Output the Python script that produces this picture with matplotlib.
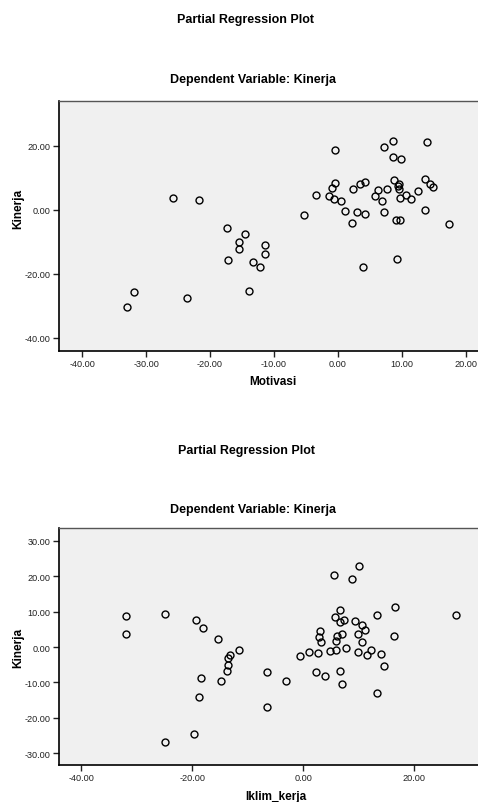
import matplotlib
matplotlib.use("Agg")
import matplotlib.pyplot as plt

plt.rcParams['font.family'] = ['Liberation Sans', 'DejaVu Sans']

#----------------------------data----------------------------------------------------#
motivasi_x = [-0.42, 7.24, 8.65, 13.96, 8.65, 9.90, -25.73, -21.67, -3.44, -1.46,
              -0.99, -0.42, -0.68, 0.42, 1.04, -5.26, 2.40, 3.49, 4.22, 2.92,
              4.27, 2.24, 5.73, 6.30, 6.88, 7.60, 7.19, 8.75, 9.48, 9.32,
              9.58, 9.64, 10.63, 11.41, 12.50, 9.01, 9.74, 13.65, 14.38, 14.79,
              13.59, 17.29, 3.96, 9.27, -17.34, -14.53, -15.47, -15.42, -11.41, -11.35,
              -17.19, -13.28, -12.19, -13.85, -31.82, -23.54, -32.97]
motivasi_y = [18.75, 19.69, 21.56, 21.15, 16.56, 15.83, 3.85, 3.13, 4.69, 4.38,
              6.67, 8.33, 3.33, 2.81, -0.21, -1.56, 6.56, 8.13, 8.54, -0.83,
              -1.25, -4.17, 4.17, 6.04, 2.71, 6.35, -0.83, 9.27, 8.13, 7.40,
              6.35, 3.65, 4.48, 3.23, 5.83, -3.23, -3.13, 9.48, 8.13, 7.19,
              0.10, -4.38, -17.71, -15.42, -5.52, -7.60, -10.10, -12.08, -11.04, -13.75,
              -15.73, -16.35, -17.71, -25.31, -25.52, -27.40, -30.31]

iklim_x = [-31.95, -31.95, -24.92, -24.98, -19.70, -19.34, -18.08, -18.38, -18.74, -15.38,
           -14.77, -13.27, -13.51, -13.51, -13.75, -11.59, -6.61, -6.61, -3.06, -0.66,
           1.08, 2.34, 2.64, 2.94, 2.82, 3.12, 3.90, 4.86, 5.53, 5.71,
           5.89, 5.89, 6.07, 6.55, 6.61, 6.67, 6.97, 7.27, 6.97, 7.75,
           8.77, 9.31, 9.79, 9.91, 10.09, 10.51, 10.63, 11.11, 11.47, 12.25,
           13.21, 13.33, 14.05, 14.53, 16.40, 16.58, 27.45]
iklim_y = [8.72, 3.75, 9.37, -26.90, -24.55, 7.69, 5.44, -8.72, -13.96, 2.25,
           -9.65, -2.16, -3.00, -4.97, -6.65, -0.75, -6.94, -16.78, -9.65, -2.62,
           -1.31, -7.03, -1.59, 4.40, 2.72, 1.41, -8.25, -1.22, 20.34, 8.34,
           -0.94, 1.69, 3.19, 10.31, 6.94, -6.84, 3.75, 7.69, -10.31, -0.28,
           19.21, 7.31, -1.50, 3.75, 22.87, 6.28, 1.41, 4.69, -2.16, -0.94,
           9.09, -12.93, -1.87, -5.44, 3.00, 11.34, 9.00]

top_xticks = [-40, -30, -20, -10, 0, 10, 20]
top_yticks = [20, 0, -20, -40]
bot_xticks = [-40, -20, 0, 20]
bot_yticks = [30, 20, 10, 0, -10, -20, -30]

W, H = 478, 803
fig = plt.figure(figsize=(W / 100, H / 100), dpi=100)


def px_axes(left, top, right, bottom):
    # pixel box -> figure fraction
    return [left / W, 1 - bottom / H, (right - left) / W, (bottom - top) / H]


def scatter_panel(box, xs, ys, xlim, ylim, xticks, yticks):
    ax = fig.add_axes(px_axes(*box))
    ax.set_facecolor('#F0F0F0')
    ax.plot(xs, ys, 'o', ms=5, mfc='none', mec='black', mew=1.0, clip_on=False)
    ax.set_xlim(xlim)
    ax.set_ylim(ylim)
    ax.set_xticks(xticks)
    ax.set_yticks(yticks)
    ax.set_xticklabels(['%.2f' % v for v in xticks])
    ax.set_yticklabels(['%.2f' % v for v in yticks])
    ax.tick_params(labelsize=6.6, length=4, width=1, colors='#222222', pad=2)
    for side in ['left', 'bottom']:
        ax.spines[side].set_color('black')
        ax.spines[side].set_linewidth(1.2)
    ax.spines['top'].set_color('#555555')
    ax.spines['top'].set_linewidth(1.0)
    ax.spines['right'].set_visible(False)
    return ax


#----------------------------top panel: Motivasi--------------------------------------#
scatter_panel((59, 102, 490, 352), motivasi_x, motivasi_y,
              (-43.6, 23.75), (-44.06, 33.97), top_xticks, top_yticks)
fig.text(246 / W, 1 - 20 / H, 'Partial Regression Plot', ha='center', va='center',
         fontsize=9, fontweight='bold')
fig.text(253.5 / W, 1 - 80 / H, 'Dependent Variable: Kinerja', ha='center', va='center',
         fontsize=9, fontweight='bold')
fig.text(18 / W, 1 - 209 / H, 'Kinerja', rotation=90, ha='center', va='center',
         fontsize=8.5, fontweight='bold')
fig.text(273 / W, 1 - 382 / H, 'Motivasi', ha='center', va='center',
         fontsize=8.5, fontweight='bold')

#----------------------------bottom panel: Iklim_kerja---------------------------------#
scatter_panel((59, 529.3, 490, 765.7), iklim_x, iklim_y,
              (-44.0, 33.6), (-33.2, 33.5), bot_xticks, bot_yticks)
fig.text(246.5 / W, 1 - 451 / H, 'Partial Regression Plot', ha='center', va='center',
         fontsize=9, fontweight='bold')
fig.text(253.5 / W, 1 - 510 / H, 'Dependent Variable: Kinerja', ha='center', va='center',
         fontsize=9, fontweight='bold')
fig.text(18 / W, 1 - 648 / H, 'Kinerja', rotation=90, ha='center', va='center',
         fontsize=8.5, fontweight='bold')
fig.text(276 / W, 1 - 797 / H, 'Iklim_kerja', ha='center', va='center',
         fontsize=8.5, fontweight='bold')

fig.savefig('out.png', dpi=100)
